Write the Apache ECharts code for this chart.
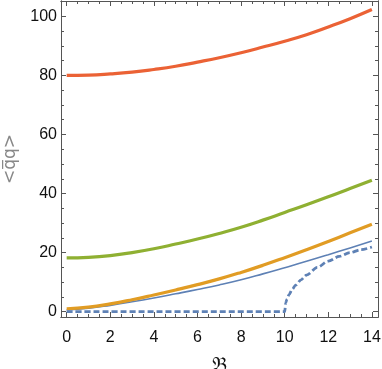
<!DOCTYPE html>
<html>
<head>
<meta charset="utf-8">
<script src="https://cdn.jsdelivr.net/npm/echarts@6/dist/echarts.min.js"></script>
<style>
  html, body { margin: 0; padding: 0; background: #fff; }
  #chart { width: 382px; height: 369px; }
</style>
</head>
<body>
<div id="chart"></div>
<script>
// B values where curves were read
const bValues = [0, 1, 2, 3, 4, 5, 6, 7, 8, 9, 10, 11, 12, 13, 14]
const redVals = [80, 80.1, 80.5, 81.1, 82.0, 83.1, 84.5, 86.0, 87.7, 89.6, 91.6, 93.8, 96.4, 99.2, 102.3]
const greenVals = [18.2, 18.4, 19.0, 20.0, 21.3, 22.9, 24.6, 26.5, 28.6, 31.0, 33.6, 36.2, 38.9, 41.7, 44.5]
const orangeVals = [1.0, 1.55, 2.65, 4.05, 5.65, 7.35, 9.15, 11.1, 13.3, 15.7, 18.3, 21.0, 23.8, 26.7, 29.6]
const blueVals = [0.6, 1.15, 2.15, 3.35, 4.65, 6.05, 7.5, 9.05, 10.8, 12.8, 14.9, 17.05, 19.3, 21.6, 23.9]
// dashed blue: zero up to B=10, then rises
const blueDashB = [0, 10, 10.05, 10.1, 10.2, 10.35, 10.5, 10.75, 11, 11.5, 12, 12.5, 13, 13.5, 14]
const blueDashVals = [0, 0, 3.0, 4.2, 5.8, 7.6, 9.0, 10.8, 12.4, 15.0, 17.1, 18.7, 20.0, 21.0, 21.9]

const xMajor = [0, 2, 4, 6, 8, 10, 12, 14]
const xMinor = [0.5, 1, 1.5, 2.5, 3, 3.5, 4.5, 5, 5.5, 6.5, 7, 7.5, 8.5, 9, 9.5, 10.5, 11, 11.5, 12.5, 13, 13.5]
const yMajor = [0, 20, 40, 60, 80, 100]
const yMinor = [5, 10, 15, 25, 30, 35, 45, 50, 55, 65, 70, 75, 85, 90, 95]

const pairs = (xs, ys) => xs.map((x, i) => [x, ys[i]])

const frame = '#555'
const xRange = { min: -0.26, max: 14.28 }
const yRange = { min: -1.8, max: 105.2 }

function tickAxis(pos, values, len, labelMargin, extra) {
  return Object.assign({
    type: 'value',
    position: pos,
    min: extra.min,
    max: extra.max,
    axisLine: { show: true, onZero: false, lineStyle: { color: frame, width: 1 } },
    axisTick: { show: true, inside: true, length: len, customValues: values, lineStyle: { color: frame } },
    axisLabel: labelMargin != null
      ? { show: true, customValues: values, margin: labelMargin, fontSize: 16, color: '#111', fontFamily: 'Liberation Sans' }
      : { show: false },
    splitLine: { show: false },
  }, extra.more || {})
}

const chart = echarts.init(document.getElementById('chart'))
chart.setOption({
  animation: false,
  grid: { left: 61, top: 1, right: 4, bottom: 52, outerBoundsMode: 'none', containLabel: false },
  xAxis: [
    tickAxis('bottom', xMajor, 5, 13, {
      ...xRange,
      more: {
        name: '𝔅',
        nameLocation: 'middle',
        nameGap: 39,
        nameTextStyle: { fontSize: 21, color: '#111', fontFamily: 'DejaVu Serif' },
      },
    }),
    tickAxis('bottom', xMinor, 3, null, xRange),
    tickAxis('top', xMajor, 5, null, xRange),
    tickAxis('top', xMinor, 3, null, xRange),
  ],
  yAxis: [
    tickAxis('left', yMajor, 5, 4, {
      ...yRange,
      more: {
        name: '<q\u0305q>',
        nameLocation: 'middle',
        nameGap: 38,
        nameRotate: 90,
        nameTextStyle: { fontSize: 17, color: '#888', fontFamily: 'DejaVu Sans' },
      },
    }),
    tickAxis('left', yMinor, 3, null, yRange),
    tickAxis('right', yMajor, 5, null, yRange),
    tickAxis('right', yMinor, 3, null, yRange),
  ],
  series: [
    {
      name: 'blue',
      type: 'line',
      data: pairs(bValues, blueVals),
      smooth: true,
      showSymbol: false,
      lineStyle: { color: '#5E81B5', width: 1.6 },
    },
    {
      name: 'orange',
      type: 'line',
      data: pairs(bValues, orangeVals),
      smooth: true,
      showSymbol: false,
      lineStyle: { color: '#E19C24', width: 3.2 },
    },
    {
      name: 'green',
      type: 'line',
      data: pairs(bValues, greenVals),
      smooth: true,
      showSymbol: false,
      lineStyle: { color: '#8FB032', width: 3.2 },
    },
    {
      name: 'red',
      type: 'line',
      data: pairs(bValues, redVals),
      smooth: true,
      showSymbol: false,
      lineStyle: { color: '#EB6235', width: 3.2 },
    },
    {
      name: 'blueDash',
      type: 'line',
      data: pairs(blueDashB, blueDashVals),
      smooth: 0.3,
      smoothMonotone: 'x',
      showSymbol: false,
      lineStyle: { color: '#5E81B5', width: 2.8, type: [6, 3] },
    },
  ],
})
</script>
</body>
</html>
